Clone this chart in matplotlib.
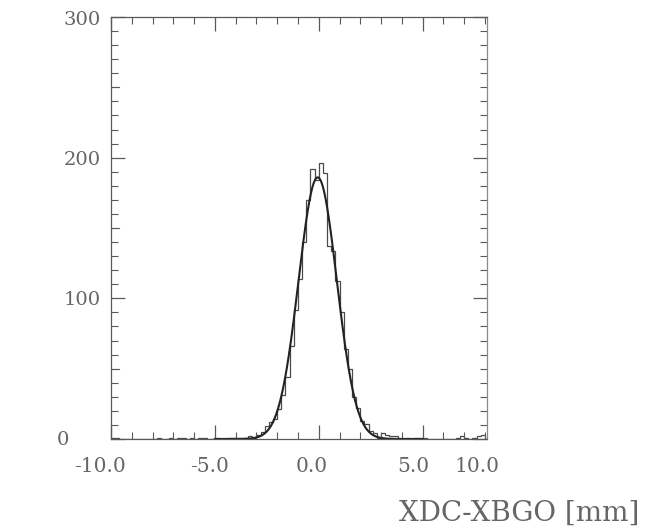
import numpy as np
import matplotlib
matplotlib.use("Agg")
import matplotlib.pyplot as plt
from matplotlib.ticker import MultipleLocator

# ---------------- data ----------------
bin_lo, bin_hi, n_bins = -10.0, 10.0, 100
counts = [
    1, 1, 0, 0, 0, 0, 0, 0, 0, 0,
    0, 1, 0, 0, 1, 0, 1, 1, 0, 1,
    0, 1, 1, 0, 0, 1, 0, 0, 1, 1,
    1, 1, 1, 2, 1, 3, 5, 9, 12, 14,
    21, 31, 44, 66, 92, 114, 140, 170, 192, 184,
    196, 189, 137, 134, 112, 90, 64, 50, 30, 22,
    13, 11, 6, 4, 1, 4, 3, 2, 2, 0,
    0, 1, 0, 1, 1, 1, 0, 0, 0, 0,
    0, 0, 0, 1, 2, 1, 0, 1, 2, 3,
    0, 0, 0, 0, 0, 0, 0, 0, 0, 0,
]
fit_amp, fit_mean, fit_sigma = 186.0, -0.05, 0.92
fit_range = (-5.0, 5.0)

x_view = (-10.0, 8.1)
x_tick_labels = ["-10.0", "-5.0", "0.0", "5.0", "10.0"]
y_tick_labels = ["300", "200", "100", "0"]
x_label = "XDC-XBGO [mm]"

# ---------------- figure ----------------
W, H = 659, 528
fig = plt.figure(figsize=(W / 100, H / 100), dpi=100)
L, R, T, B = 111, 487, 17, 439
ax = fig.add_axes([L / W, 1 - B / H, (R - L) / W, (B - T) / H])

edges = np.linspace(bin_lo, bin_hi, n_bins + 1)
ax.stairs(counts, edges, color="#4a4a4a", linewidth=0.9)

xf = np.linspace(fit_range[0], fit_range[1], 600)
yf = fit_amp * np.exp(-0.5 * ((xf - fit_mean) / fit_sigma) ** 2)
ax.plot(xf, yf, color="#222222", linewidth=1.5)

ax.set_xlim(*x_view)
ax.set_ylim(0, 300)
for s in ax.spines.values():
    s.set_color("#5a5a5a")
    s.set_linewidth(0.9)
ax.spines["right"].set_color("#8a8a8a")

ax.xaxis.set_major_locator(MultipleLocator(5))
ax.xaxis.set_minor_locator(MultipleLocator(1))
ax.yaxis.set_major_locator(MultipleLocator(100))
ax.yaxis.set_minor_locator(MultipleLocator(10))
ax.tick_params(which="both", direction="in", top=True, right=True,
               labelbottom=False, labelleft=False, color="#5a5a5a")
ax.tick_params(which="major", length=10, width=0.9)
ax.tick_params(which="minor", length=5, width=0.8)
for yv in (50, 150, 250):
    ax.plot([x_view[0], x_view[0] + 0.4], [yv, yv], color="#5a5a5a", lw=0.8,
            clip_on=False)

font = dict(family="DejaVu Serif", color="#666666")

def ftext(px, py, s, ha="center", size=14):
    fig.text(px / W, 1 - py / H, s, ha=ha, va="center", fontsize=size, **font)

for px, s in zip([100, 210, 312, 413, 477], x_tick_labels):
    ftext(px, 467, s, size=14.5)
for py, s in zip([20, 160, 300], y_tick_labels[:3]):
    ftext(101, py, s, ha="right")
ftext(63, 440, y_tick_labels[3])
ftext(519, 513, x_label, size=20)

fig.savefig("out.png", dpi=100)
